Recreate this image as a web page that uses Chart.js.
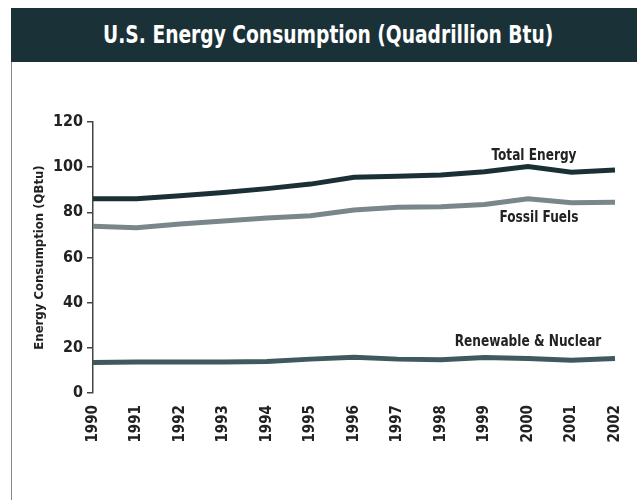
<!DOCTYPE html>
<html>
<head>
<meta charset="utf-8">
<script src="https://cdn.jsdelivr.net/npm/chart.js@4"></script>
<style>
  body { margin: 0; background: #fff; }
  #wrap { position: relative; width: 637px; height: 500px; overflow: hidden; }
  #head {
    position: absolute; left: 11px; top: 8px; width: 626px; height: 54px;
    background: #1a3237; color: #fff; text-align: center;
    font: bold 25px "DejaVu Sans Condensed", sans-serif;
    line-height: 54px;
  }
  #head span { display: inline-block; transform: scaleX(0.83); margin-left: 8px; }
  #edge { position: absolute; left: 11px; top: 62px; width: 1px; height: 438px; background: #888; }
  canvas { position: absolute; left: 0; top: 0; }
</style>
</head>
<body>
<div id="wrap">
  <div id="head"><span>U.S. Energy Consumption (Quadrillion Btu)</span></div>
  <div id="edge"></div>
  <canvas id="chart" width="637" height="500"></canvas>
</div>
<script>
const years = ['1990','1991','1992','1993','1994','1995','1996','1997','1998','1999','2000','2001','2002'];
const totalEnergy = [86, 86, 87.3, 88.8, 90.5, 92.5, 95.5, 96, 96.5, 98, 100.3, 97.8, 98.7];
const fossilFuels = [73.8, 73.2, 74.8, 76.2, 77.5, 78.5, 81, 82.3, 82.5, 83.5, 86, 84.2, 84.5];
const renewableNuclear = [13.5, 13.7, 13.7, 13.7, 14, 15, 15.8, 15, 14.7, 15.7, 15.3, 14.5, 15.3];
const yTicks = [0, 20, 40, 60, 80, 100, 120];

const font = '"DejaVu Sans Condensed", sans-serif';
const ink = '#222';

// series names written next to the lines (slightly squeezed to look condensed)
const lineLabels = {
  id: 'lineLabels',
  afterDatasetsDraw(chart) {
    const { ctx, scales: { x, y } } = chart;
    const items = [
      { text: 'Total Energy', i: 10, v: totalEnergy[10], dx: 6, dy: -10 },
      { text: 'Fossil Fuels', i: 10, v: fossilFuels[10], dx: 11, dy: 19 },
      { text: 'Renewable & Nuclear', i: 10, v: renewableNuclear[10], dx: 0, dy: -16 }
    ];
    ctx.save();
    ctx.fillStyle = ink;
    ctx.font = 'bold 15px ' + font;
    ctx.textAlign = 'center';
    ctx.textBaseline = 'middle';
    items.forEach(it => {
      const px = x.getPixelForValue(it.i) + it.dx;
      const py = y.getPixelForValue(it.v) + it.dy;
      ctx.save();
      ctx.translate(px, py);
      ctx.scale(0.9, 1);
      ctx.fillText(it.text, 0, 0);
      ctx.restore();
    });
    ctx.restore();
  }
};

new Chart(document.getElementById('chart'), {
  type: 'line',
  data: {
    labels: years,
    datasets: [
      { label: 'Total Energy', data: totalEnergy, borderColor: '#1a3035', borderWidth: 5 },
      { label: 'Fossil Fuels', data: fossilFuels, borderColor: '#7a878a', borderWidth: 5 },
      { label: 'Renewable & Nuclear', data: renewableNuclear, borderColor: '#3f5a5e', borderWidth: 5 }
    ]
  },
  options: {
    responsive: false,
    animation: false,
    layout: { padding: { left: 0, right: 17, top: 122, bottom: 0 } },
    elements: { point: { radius: 0 }, line: { tension: 0, borderCapStyle: 'butt' } },
    plugins: { legend: { display: false }, tooltip: { enabled: false } },
    scales: {
      x: {
        grid: { display: false },
        border: { display: false },
        ticks: { color: ink, font: { family: font, size: 15, weight: 'bold' }, maxRotation: 90, minRotation: 90, padding: 4, autoSkip: false },
        afterFit(s) { s.height = 107; }
      },
      y: {
        min: 0, max: 120,
        afterBuildTicks(s) { s.ticks = yTicks.map(v => ({ value: v })); },
        grid: { drawOnChartArea: false, drawTicks: true, tickLength: 6, color: '#444', lineWidth: 1.5 },
        border: { display: true, color: '#444', width: 1.5 },
        ticks: { color: ink, font: { family: font, size: 16, weight: 'bold' }, padding: 4 },
        title: { display: true, text: 'Energy Consumption (QBtu)', color: ink, font: { family: font, size: 13, weight: 'bold' }, padding: { top: 32, bottom: 0 } },
        afterFit(s) { s.width = 93; }
      }
    }
  },
  plugins: [lineLabels]
});
</script>
</body>
</html>
